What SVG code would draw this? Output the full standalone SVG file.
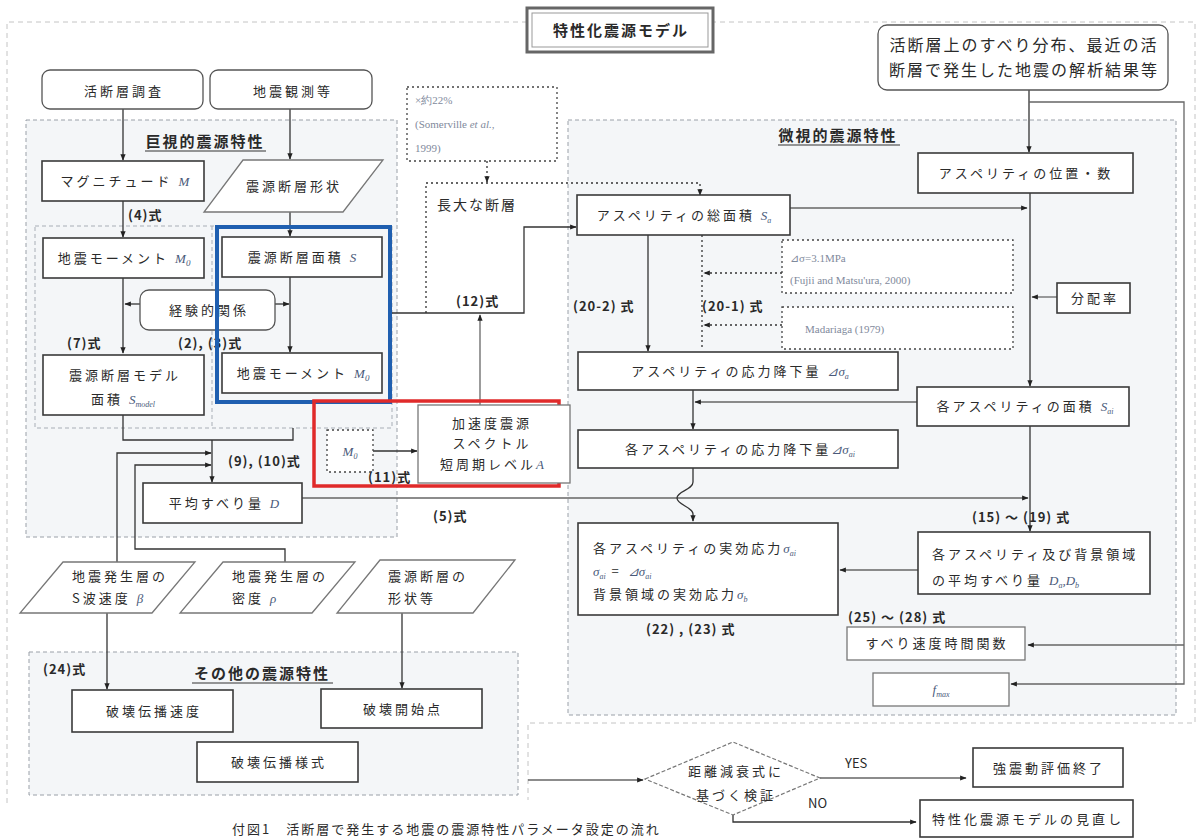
<svg xmlns="http://www.w3.org/2000/svg" width="1199" height="839" viewBox="0 0 1199 839">
<defs>
<marker id="ah" viewBox="0 0 10 10" refX="9" refY="5" markerWidth="5" markerHeight="5" orient="auto-start-reverse"><path d="M0,1 L10,5 L0,9 z" fill="#222"/></marker>
<style>
text{font-family:"Noto Sans CJK JP","Noto Sans",sans-serif;fill:#2a2a2a;}
.t{font-size:13px;letter-spacing:3px;text-anchor:middle;}
.tl{font-size:13px;letter-spacing:3px;}
.lb{font-size:13px;font-weight:bold;letter-spacing:1px;}
.hd{font-size:15px;font-weight:bold;letter-spacing:2px;text-anchor:middle;}
.ref{font-size:11px;fill:#7f8a9c;font-family:"Liberation Serif",serif;}
.m{font-family:"Liberation Serif",serif;font-style:italic;fill:#4a5a7a;letter-spacing:0;}
.box{fill:#fff;stroke:#3a3a3a;stroke-width:1.6;}
.lbox{fill:#fff;stroke:#777;stroke-width:1.3;}
.rbox{fill:#fff;stroke:#555;stroke-width:1.3;}
.dot{fill:#fff;stroke:#444;stroke-width:1.3;stroke-dasharray:2 3;}
.reg{fill:#f4f6f8;stroke:#9aa0a8;stroke-width:1;stroke-dasharray:4 3;}
.c{fill:none;stroke:#333;stroke-width:1.3;}
.cd{fill:none;stroke:#333;stroke-width:1.3;stroke-dasharray:2 3;}
.cl{fill:none;stroke:#666;stroke-width:1.3;}
</style>
</defs>
<rect width="1199" height="839" fill="#fff"/>
<path d="M7 803 V22 H1195 V723 H528 V800" fill="none" stroke="#c4c4c4" stroke-width="1" stroke-dasharray="5 4"/>

<!-- regions -->
<g id="macro-region"><rect class="reg" x="26" y="120" width="371" height="417"/>
<text class="hd" x="205" y="147">巨視的震源特性</text><line x1="145" y1="151" x2="266" y2="151" stroke="#333" stroke-width="1"/>
<rect x="35" y="226" width="357" height="202" fill="none" stroke="#a8aeb6" stroke-dasharray="4 3"/><line x1="212" y1="226" x2="212" y2="428" stroke="#a8aeb6" stroke-dasharray="4 3"/></g>
<g id="micro-region"><rect class="reg" x="568" y="120" width="608" height="595"/>
<text class="hd" x="838" y="141">微視的震源特性</text><line x1="778" y1="145" x2="900" y2="145" stroke="#333" stroke-width="1"/></g>
<g id="other-region"><rect class="reg" x="29" y="652" width="489" height="143"/>
<text class="hd" x="262" y="679">その他の震源特性</text><line x1="192" y1="683" x2="333" y2="683" stroke="#333" stroke-width="1"/></g>

<g id="title"><rect x="527" y="8" width="186" height="44" fill="#fff" stroke="#666" stroke-width="3"/><rect x="532" y="13" width="176" height="34" fill="none" stroke="#999" stroke-width="1"/>
<text class="hd" x="621" y="36">特性化震源モデル</text></g>

<!-- connectors -->
<g id="connectors">
<path class="c" d="M123 109 V160" marker-end="url(#ah)"/>
<path class="c" d="M290 109 V159" marker-end="url(#ah)"/>
<path class="c" d="M123 201 V237" marker-end="url(#ah)"/>
<path class="c" d="M290 212 V236" marker-end="url(#ah)"/>
<path class="c" d="M123 278 V353" marker-end="url(#ah)"/>
<path class="c" d="M290 277 V352" marker-end="url(#ah)"/>
<path class="c" d="M140 304 H125" marker-end="url(#ah)"/>
<path class="c" d="M275 304 H289" marker-end="url(#ah)"/>
<path class="c" d="M123 415 V440 H293 V428"/>
<path class="c" d="M212 440 V482" marker-end="url(#ah)"/>
<path class="c" d="M117 562 V453 H211" marker-end="url(#ah)"/>
<path class="c" d="M285 562 V549 H135 V465 H211" marker-end="url(#ah)"/>
<path class="cl" d="M302 498 H1028" marker-end="url(#ah)"/>
<path class="c" d="M373 451 H417" marker-end="url(#ah)"/>
<path class="cl" d="M480 405 V315" marker-end="url(#ah)"/>
<path class="c" d="M390 313 H524 V227 H576" marker-end="url(#ah)"/>
<path class="cd" d="M487 161 V182" marker-end="url(#ah)"/>
<path class="cd" d="M426 313 V183 H700 V195" marker-end="url(#ah)"/>
<path class="cl" d="M790 208 H1027" marker-end="url(#ah)"/>
<path class="c" d="M1029 90 V152" marker-end="url(#ah)"/>
<path class="cl" d="M1029 102 H1184 V684 H1011" marker-end="url(#ah)"/>
<path class="cl" d="M1184 645 H1028" marker-end="url(#ah)"/>
<path class="c" d="M1030 193 V386" stroke-width="1.8" marker-end="url(#ah)"/>
<path class="cl" d="M1057 297 H1032" marker-end="url(#ah)"/>
<path class="cl" d="M917 402 H695" marker-end="url(#ah)"/>
<path class="c" d="M1030 426 V531" stroke-width="1.8" marker-end="url(#ah)"/>
<path class="cl" d="M918 570 H840" marker-end="url(#ah)"/>
<path class="c" d="M648 235 V351" marker-end="url(#ah)"/>
<path class="cd" d="M702 235 V350"/>
<path class="cd" d="M782 273 H704" marker-end="url(#ah)"/>
<path class="cd" d="M782 325 H704" marker-end="url(#ah)"/>
<path class="c" d="M693 390 V429" marker-end="url(#ah)"/>
<path class="c" d="M693 468 V482 C693 490 677 491 677 498 C677 505 693 507 693 514 V521" marker-end="url(#ah)"/>
<path class="c" d="M107 613 V689" marker-end="url(#ah)"/>
<path class="c" d="M402 613 V688" marker-end="url(#ah)"/>
<path class="cl" d="M528 780 H643" marker-end="url(#ah)"/>
<path class="cl" d="M820 778 H966" marker-end="url(#ah)"/>
<path class="c" d="M733 815 V822 H916" marker-end="url(#ah)"/>
</g>

<!-- left column -->
<g id="n-katsudanso"><rect class="rbox" x="42" y="70" width="161" height="39" rx="8"/><text class="t" x="124" y="96">活断層調査</text></g>
<g id="n-jishinkansoku"><rect class="rbox" x="210" y="70" width="162" height="39" rx="8"/><text class="t" x="293" y="96">地震観測等</text></g>
<g id="n-magnitude"><rect class="box" x="42" y="161" width="162" height="40"/><text class="t" x="125" y="186">マグニチュード <tspan class="m">M</tspan></text></g>
<g id="n-keijo"><polygon class="lbox" points="243,160 383,160 343,212 204,212"/><text class="t" x="294" y="191">震源断層形状</text></g>
<text class="lb" x="128" y="220">(4)式</text>
<g id="n-m0a"><rect class="box" x="43" y="238" width="161" height="40"/><text class="t" x="124" y="263">地震モーメント <tspan class="m">M</tspan><tspan class="m" font-size="9" dy="3">0</tspan></text></g>
<g id="n-s"><rect class="box" x="222" y="237" width="160" height="40"/><text class="t" x="302" y="262">震源断層面積 <tspan class="m">S</tspan></text></g>
<g id="n-keiken"><rect class="rbox" x="140" y="290" width="135" height="40" rx="9"/><text class="t" x="209" y="315">経験的関係</text></g>
<text class="lb" x="67" y="348">(7)式</text>
<text class="lb" x="178" y="348">(2), (3)式</text>
<g id="n-smodel"><rect class="box" x="43" y="355" width="161" height="60"/><text class="t" x="125" y="380">震源断層モデル</text><text class="t" x="123" y="404">面積 <tspan class="m">S</tspan><tspan class="m" font-size="8" dy="3">model</tspan></text></g>
<g id="n-m0b"><rect class="box" x="222" y="353" width="160" height="40"/><text class="t" x="303" y="378">地震モーメント <tspan class="m">M</tspan><tspan class="m" font-size="9" dy="3">0</tspan></text></g>
<g id="blue-highlight"><rect x="217" y="227" width="173" height="175" fill="none" stroke="#1f5fb0" stroke-width="4"/></g>
<text class="lb" x="228" y="466">(9), (10)式</text>
<g id="n-d"><rect class="box" x="143" y="483" width="159" height="40"/><text class="t" x="224" y="508">平均すべり量 <tspan class="m">D</tspan></text></g>
<text class="lb" x="433" y="521">(5)式</text>

<!-- A / M0 -->
<g id="red-highlight"><rect x="314" y="401" width="245" height="85" fill="none" stroke="#e02a2a" stroke-width="3.5"/></g>
<g id="n-m0c"><rect class="dot" x="327" y="430" width="46" height="42"/><text x="350" y="456" text-anchor="middle" font-size="13" class="m">M<tspan font-size="8" dy="3">0</tspan></text></g>
<text class="lb" x="368" y="482">(11)式</text>
<g id="n-a"><rect class="lbox" x="418" y="405" width="152" height="78"/><text class="t" x="492" y="428">加速度震源</text><text class="t" x="492" y="448">スペクトル</text><text class="t" x="492" y="469">短周期レベル<tspan class="m">A</tspan></text></g>
<text class="lb" x="456" y="306">(12)式</text>
<g id="n-somerville"><rect class="dot" x="407" y="87" width="150" height="74"/><text class="ref" x="415" y="104">×約22%</text><text class="ref" x="415" y="128">(Somerville <tspan font-style="italic">et al.</tspan>,</text><text class="ref" x="415" y="152">1999)</text></g>
<text x="437" y="210" font-size="14" letter-spacing="2">長大な断層</text>

<!-- micro -->
<g id="n-katsudanso-joho"><rect class="rbox" x="878" y="25" width="290" height="65" rx="9"/><text x="1024" y="51" font-size="16" letter-spacing="2" text-anchor="middle">活断層上のすべり分布、最近の活</text><text x="1024" y="76" font-size="16" letter-spacing="2" text-anchor="middle">断層で発生した地震の解析結果等</text></g>
<g id="n-ichi"><rect class="box" x="918" y="153" width="215" height="40"/><text class="t" x="1026" y="178">アスペリティの位置・数</text></g>
<g id="n-sa-total"><rect class="box" x="577" y="195" width="213" height="40"/><text class="t" x="684" y="220">アスペリティの総面積 <tspan class="m">S</tspan><tspan class="m" font-size="8" dy="3">a</tspan></text></g>
<text class="lb" x="573" y="311">(20-2) 式</text>
<text class="lb" x="702" y="311">(20-1) 式</text>
<g id="n-fujii"><rect class="dot" x="782" y="240" width="231" height="53"/><text class="ref" x="790" y="262">⊿σ=3.1MPa</text><text class="ref" x="790" y="284">(Fujii and Matsu'ura, 2000)</text></g>
<g id="n-madariaga"><rect class="dot" x="782" y="307" width="231" height="42"/><text class="ref" x="805" y="333">Madariaga (1979)</text></g>
<g id="n-bunpai"><rect class="box" x="1057" y="283" width="73" height="30"/><text class="t" x="1095" y="303">分配率</text></g>
<g id="n-dsa"><rect class="box" x="578" y="352" width="320" height="38"/><text class="t" x="740" y="376">アスペリティの応力降下量 <tspan class="m">⊿σ</tspan><tspan class="m" font-size="8" dy="3">a</tspan></text></g>
<g id="n-sai"><rect class="box" x="917" y="387" width="212" height="39"/><text class="t" x="1025" y="411">各アスペリティの面積 <tspan class="m">S</tspan><tspan class="m" font-size="8" dy="3">ai</tspan></text></g>
<g id="n-dsai"><rect class="box" x="578" y="430" width="320" height="38"/><text class="t" x="740" y="454">各アスペリティの応力降下量<tspan class="m">⊿σ</tspan><tspan class="m" font-size="8" dy="3">ai</tspan></text></g>
<text class="lb" x="972" y="522">(15) ～ (19) 式</text>
<g id="n-dadb"><rect class="box" x="918" y="532" width="232" height="62"/><text class="tl" x="932" y="559">各アスペリティ及び背景領域</text><text class="tl" x="932" y="585">の平均すべり量 <tspan class="m">D</tspan><tspan class="m" font-size="8" dy="3">a</tspan><tspan class="m" dy="-3">,D</tspan><tspan class="m" font-size="8" dy="3">b</tspan></text></g>
<g id="n-sigma"><rect class="box" x="578" y="523" width="260" height="92"/><text class="tl" x="593" y="553">各アスペリティの実効応力<tspan class="m">σ</tspan><tspan class="m" font-size="8" dy="3">ai</tspan></text><text class="tl" x="593" y="576"><tspan class="m">σ</tspan><tspan class="m" font-size="8" dy="3">ai</tspan><tspan dy="-3"> = </tspan><tspan class="m">⊿σ</tspan><tspan class="m" font-size="8" dy="3">ai</tspan></text><text class="tl" x="593" y="599">背景領域の実効応力<tspan class="m">σ</tspan><tspan class="m" font-size="8" dy="3">b</tspan></text></g>
<text class="lb" x="646" y="634">(22) , (23) 式</text>
<text class="lb" x="848" y="622">(25) ～ (28) 式</text>
<g id="n-slip"><rect class="lbox" x="847" y="627" width="178" height="33"/><text class="t" x="937" y="648">すべり速度時間関数</text></g>
<g id="n-fmax"><rect class="lbox" x="873" y="673" width="136" height="33"/><text x="941" y="694" text-anchor="middle" font-size="13" class="m">f<tspan font-size="8" dy="3">max</tspan></text></g>

<!-- bottom-left -->
<g id="n-beta"><polygon class="lbox" points="63,562 195,562 152,613 20,613"/><text class="tl" x="72" y="581">地震発生層の</text><text class="tl" x="72" y="603">S波速度 <tspan class="m">β</tspan></text></g>
<g id="n-rho"><polygon class="lbox" points="223,562 355,562 312,613 180,613"/><text class="tl" x="232" y="581">地震発生層の</text><text class="tl" x="232" y="603">密度 <tspan class="m">ρ</tspan></text></g>
<g id="n-keijo2"><polygon class="lbox" points="380,560 515,560 473,613 337,613"/><text class="tl" x="388" y="581">震源断層の</text><text class="tl" x="388" y="603">形状等</text></g>
<text class="lb" x="43" y="674">(24)式</text>
<g id="n-hakai-sokudo"><rect class="box" x="72" y="690" width="161" height="42"/><text class="t" x="154" y="716">破壊伝播速度</text></g>
<g id="n-hakai-kaishi"><rect class="box" x="321" y="689" width="161" height="39"/><text class="t" x="403" y="714">破壊開始点</text></g>
<g id="n-hakai-yoshiki"><rect class="box" x="197" y="742" width="161" height="40"/><text class="t" x="279" y="767">破壊伝播様式</text></g>

<!-- verification -->
<g id="n-kensho"><polygon points="645,779 733,742 820,778 733,815" fill="#fff" stroke="#777" stroke-width="1.2" stroke-dasharray="4 2"/><text class="t" x="736" y="776">距離減衰式に</text><text class="t" x="736" y="800">基づく検証</text></g>
<text x="845" y="768" font-size="13" font-family="Liberation Sans, sans-serif">YES</text>
<text x="808" y="808" font-size="13" font-family="Liberation Sans, sans-serif">NO</text>
<g id="n-end"><rect class="box" x="973" y="748" width="150" height="39"/><text class="t" x="1049" y="773">強震動評価終了</text></g>
<g id="n-review"><rect class="box" x="920" y="800" width="213" height="37"/><text class="t" x="1028" y="824">特性化震源モデルの見直し</text></g>
<text x="232" y="834" font-size="13" letter-spacing="2">付図1　活断層で発生する地震の震源特性パラメータ設定の流れ</text>
</svg>
